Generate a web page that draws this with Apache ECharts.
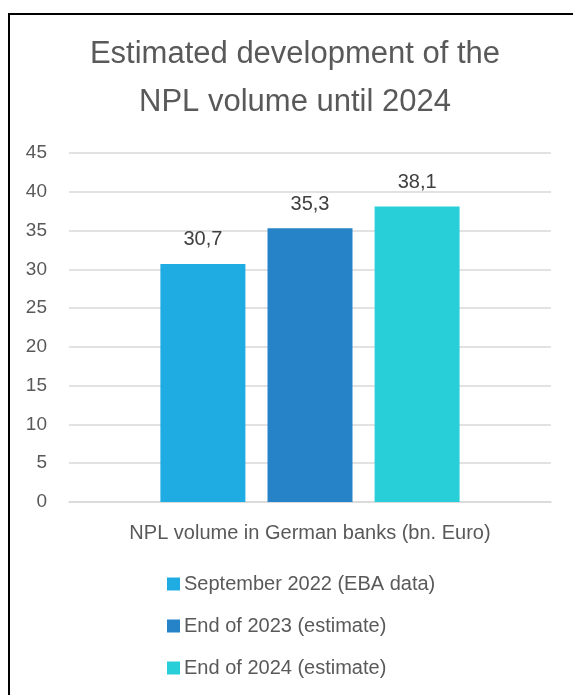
<!DOCTYPE html>
<html>
<head>
<meta charset="utf-8">
<script src="https://cdn.jsdelivr.net/npm/echarts@6/dist/echarts.min.js"></script>
<style>
  html, body { margin: 0; padding: 0; background: #fff; }
  #chart { width: 573px; height: 695px; }
</style>
</head>
<body>
<div id="chart"></div>
<script>
// NPL volume in German banks, bn. Euro
const categories = ['NPL volume in German banks (bn. Euro)'];
const seriesNames = ['September 2022 (EBA data)', 'End of 2023 (estimate)', 'End of 2024 (estimate)'];
const seriesValues = [[30.7], [35.3], [38.1]];
const seriesColors = ['#1FACE3', '#2783C7', '#28CED8'];

const FONT = '"Liberation Sans Narrow", "Arial Narrow", "Liberation Sans", Arial, sans-serif';

const chart = echarts.init(document.getElementById('chart'));

const series = seriesNames.map((name, i) => ({
  name: name,
  type: 'bar',
  data: seriesValues[i],
  barWidth: 85,
  barGap: '26%',
  itemStyle: { color: seriesColors[i] },
  label: {
    show: true,
    position: 'top',
    distance: 14,
    color: '#404040',
    fontFamily: FONT,
    fontSize: 20,
    formatter: p => String(p.value).replace('.', ',')
  }
}));

chart.setOption({
  animation: false,
  backgroundColor: '#fff',
  title: {
    text: 'Estimated development of the\nNPL volume until 2024',
    left: 290,
    textAlign: 'center',
    top: 25,
    textStyle: {
      fontFamily: FONT,
      fontWeight: 'normal',
      fontSize: 31,
      lineHeight: 48,
      color: '#595959'
    }
  },
  grid: { left: 69, right: 22, top: 153, bottom: 193 },
  legend: {
    orient: 'vertical',
    left: 162,
    top: 569,
    itemWidth: 13,
    itemHeight: 13,
    itemGap: 22,
    icon: 'rect',
    textStyle: { fontFamily: FONT, fontSize: 20, color: '#595959', padding: [0, 0, 0, -1] },
    data: seriesNames
  },
  xAxis: {
    type: 'category',
    data: categories,
    axisLine: { lineStyle: { color: '#D9D9D9', width: 1.5 } },
    axisTick: { show: false },
    axisLabel: { fontFamily: FONT, fontSize: 20, color: '#595959', margin: 21 }
  },
  yAxis: {
    type: 'value',
    min: 0,
    max: 45,
    interval: 5,
    axisLine: { show: false },
    axisTick: { show: false },
    splitLine: { lineStyle: { color: '#D9D9D9', width: 1.5 } },
    axisLabel: { fontFamily: FONT, fontSize: 19, color: '#595959', margin: 22 }
  },
  graphic: [
    { type: 'line', shape: { x1: 9, y1: 14, x2: 573, y2: 14 }, style: { stroke: '#000', lineWidth: 2 } },
    { type: 'line', shape: { x1: 9, y1: 13, x2: 9, y2: 695 }, style: { stroke: '#000', lineWidth: 2 } }
  ],
  series: series
});
</script>
</body>
</html>
